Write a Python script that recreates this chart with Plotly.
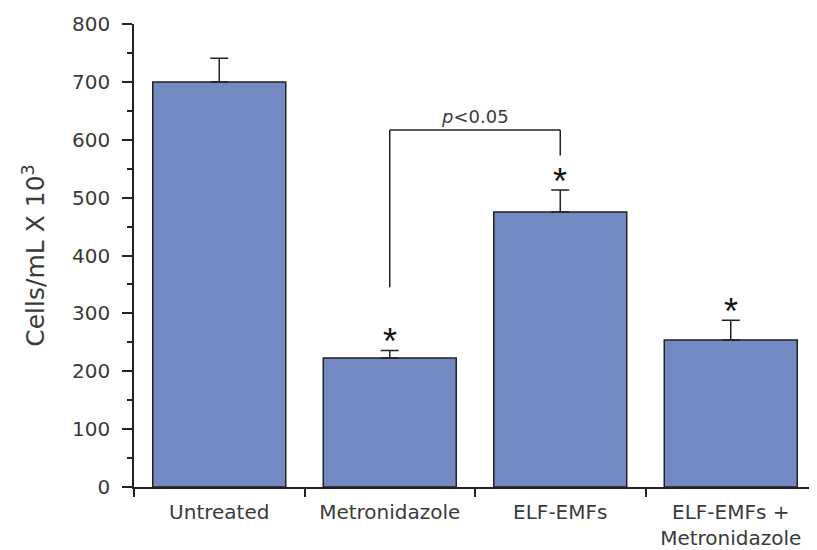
import plotly.graph_objects as go

categories = ["Untreated", "Metronidazole", "ELF-EMFs", "ELF-EMFs +<br>Metronidazole"]
means = [700, 223, 475, 254]
errors = [41, 13, 38, 34]
significant = [False, True, True, True]
yticks = [0, 100, 200, 300, 400, 500, 600, 700, 800]

# bracket comparing Metronidazole vs ELF-EMFs
bracket_left_bottom = 345
bracket_top = 617
bracket_right_bottom = 573
p_text = "<i>p</i><0.05"

bar_color = "#7289c2"
ink = "#222222"
text_color = "#3a3a3a"
FONT = "DejaVu Sans, Liberation Sans, Arial"

fig = go.Figure()
fig.add_trace(go.Bar(
    x=list(range(len(categories))),
    y=means,
    width=0.78,
    marker=dict(color=bar_color, line=dict(color=ink, width=1.5)),
    error_y=dict(type="data", symmetric=False, array=errors,
                 arrayminus=[0] * len(errors), color=ink, thickness=1.5, width=9),
    showlegend=False,
))

for i, (m, e, s) in enumerate(zip(means, errors, significant)):
    if s:
        fig.add_annotation(x=i, y=m + e, text="*", showarrow=False,
                           yanchor="bottom", yshift=-14,
                           font=dict(size=36, color="#111111", family="Liberation Sans, Arial"))

# bracket
fig.add_shape(type="line", x0=1, x1=1, y0=bracket_left_bottom, y1=bracket_top,
              xref="x", yref="y", line=dict(color=ink, width=1.5))
fig.add_shape(type="line", x0=1, x1=2, y0=bracket_top, y1=bracket_top,
              xref="x", yref="y", line=dict(color=ink, width=1.5))
fig.add_shape(type="line", x0=2, x1=2, y0=bracket_top, y1=bracket_right_bottom,
              xref="x", yref="y", line=dict(color=ink, width=1.5))
fig.add_annotation(x=1.5, y=bracket_top, text=p_text, showarrow=False,
                   yanchor="bottom", yshift=1,
                   font=dict(size=18, color=text_color, family=FONT))

fig.update_layout(
    width=817, height=550,
    margin=dict(l=126, r=9, t=16, b=71),
    plot_bgcolor="white", paper_bgcolor="white",
    font=dict(family=FONT, color=text_color, size=20),
)
fig.update_xaxes(
    range=[-0.5, 3.5],
    automargin=False,
    tickvals=list(range(len(categories))),
    ticktext=categories,
    showline=True, linecolor=ink, linewidth=1.5,
    ticks="", showgrid=False, zeroline=False,
    tickfont=dict(size=20, color=text_color, family=FONT),
    ticklabelstandoff=6,
    minor=dict(tickvals=[-0.5, 0.5, 1.5, 2.5, 3.5], ticks="outside", ticklen=8,
               tickcolor=ink, tickwidth=1.5),
)
fig.update_yaxes(
    range=[0, 800],
    automargin=False,
    tickvals=yticks,
    showline=True, linecolor=ink, linewidth=1.5,
    ticks="outside", ticklen=10, tickcolor=ink, tickwidth=1.5,
    minor=dict(dtick=50, ticks="outside", ticklen=5, tickcolor=ink, tickwidth=1.5),
    showgrid=False, zeroline=False,
    tickfont=dict(size=20, color=text_color, family=FONT),
    ticklabelstandoff=8,
    title=dict(text="Cells/mL X 10<sup>3</sup>", font=dict(size=25, color=text_color, family=FONT), standoff=20),
)

fig.write_html("out.html")
